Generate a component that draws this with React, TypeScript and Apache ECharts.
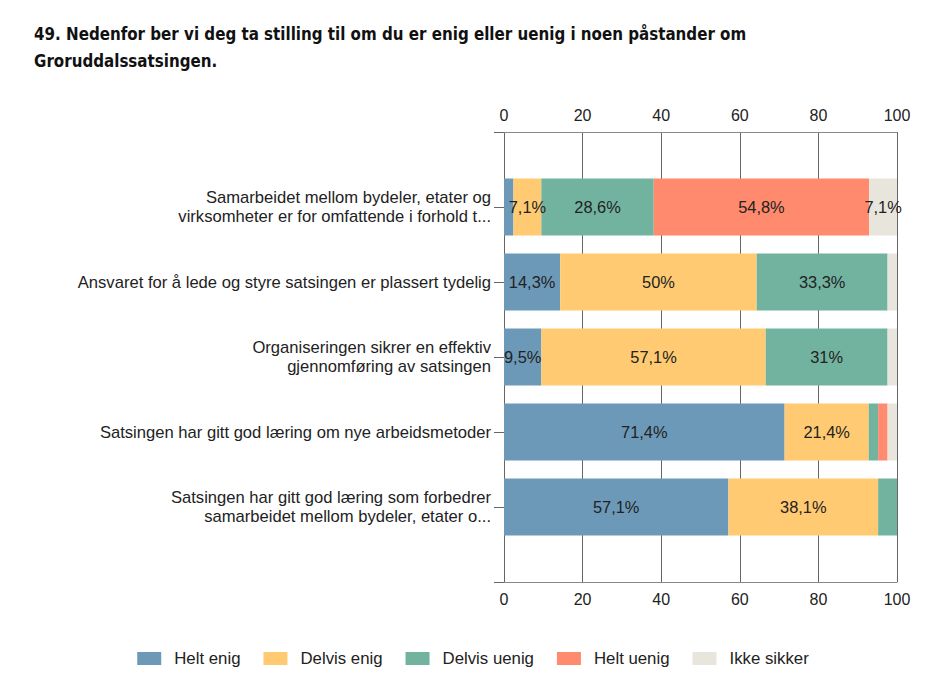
import React, { useEffect, useRef } from "react";
import * as echarts from "echarts";

const title =
  "49. Nedenfor ber vi deg ta stilling til om du er enig eller uenig i noen påstander om\nGroruddalssatsingen.";

const categories = [
  "Samarbeidet mellom bydeler, etater og\nvirksomheter er for omfattende i forhold t...",
  "Ansvaret for å lede og styre satsingen er plassert tydelig",
  "Organiseringen sikrer en effektiv\ngjennomføring av satsingen",
  "Satsingen har gitt god læring om nye arbeidsmetoder",
  "Satsingen har gitt god læring som forbedrer\nsamarbeidet mellom bydeler, etater o...",
];

const seriesNames = ["Helt enig", "Delvis enig", "Delvis uenig", "Helt uenig", "Ikke sikker"];
const heltEnig = [2.4, 14.3, 9.5, 71.4, 57.1];
const delvisEnig = [7.1, 50, 57.1, 21.4, 38.1];
const delvisUenig = [28.6, 33.3, 31, 2.4, 4.8];
const heltUenig = [54.8, 0, 0, 2.4, 0];
const ikkeSikker = [7.1, 2.4, 2.4, 2.4, 0];
const colors = ["#6d99b9", "#ffca71", "#72b3a0", "#ff8a6e", "#e8e5dc"];
const xTicks = [0, 20, 40, 60, 80, 100];

export default function App() {
  const ref = useRef<HTMLDivElement>(null);
  useEffect(() => {
    if (!ref.current) return;
    const chart = echarts.init(ref.current, undefined, { renderer: "svg" });
    const values = [heltEnig, delvisEnig, delvisUenig, heltUenig, ikkeSikker];
    const yCats = ["", ...categories, ""];
    const font = "Liberation Sans, Arial, sans-serif";
    const xAxisCommon = {
      type: "value",
      min: xTicks[0],
      max: xTicks[xTicks.length - 1],
      interval: 20,
      axisLine: { show: true, lineStyle: { color: "#888", width: 1 } },
      axisTick: { show: false },
      axisLabel: { color: "#222", fontSize: 16, fontFamily: font, margin: 9 },
      splitLine: { show: true, lineStyle: { color: "#666", width: 1 } },
    };
    chart.setOption({
      animation: false,
      title: {
        text: title,
        left: 34,
        top: 20,
        padding: 0,
        textStyle: {
          fontFamily: "DejaVu Sans Condensed, DejaVu Sans, sans-serif",
          fontWeight: "bold",
          fontSize: 16.8,
          lineHeight: 27,
          color: "#111",
        },
      },
      legend: {
        top: 645,
        left: "center",
        icon: "rect",
        itemWidth: 24,
        itemHeight: 13,
        itemGap: 23,
        textStyle: { color: "#222", fontSize: 16.8, fontFamily: font, padding: [0, 0, 0, 8] },
        data: seriesNames,
      },
      grid: { left: 504, right: 49, top: 132, bottom: 114, containLabel: false },
      xAxis: [
        { ...xAxisCommon, position: "top" },
        { ...xAxisCommon, position: "bottom" },
      ],
      yAxis: {
        type: "category",
        inverse: true,
        boundaryGap: false,
        data: yCats,
        axisLine: { show: false },
        axisTick: { show: true, length: 10, lineStyle: { color: "#666" } },
        axisLabel: {
          color: "#222",
          fontSize: 16.6,
          fontFamily: font,
          margin: 13,
          lineHeight: 19,
          align: "right",
        },
        splitLine: { show: false },
      },
      series: seriesNames.map((name, i) => ({
        name,
        type: "bar",
        stack: "total",
        xAxisIndex: 0,
        barWidth: "76%",
        itemStyle: { color: colors[i] },
        label: {
          show: true,
          position: "inside",
          color: "#222",
          fontSize: 16.4,
          fontFamily: font,
          formatter: (p: any) =>
            p.value >= 5 ? String(p.value).replace(".", ",") + "%" : "",
        },
        data: ["-", ...values[i], "-"],
      })),
    });
    return () => chart.dispose();
  }, []);
  return (
    <div
      ref={ref}
      style={{ position: "absolute", left: 0, top: 0, width: 946, height: 696, background: "#fff" }}
    />
  );
}
